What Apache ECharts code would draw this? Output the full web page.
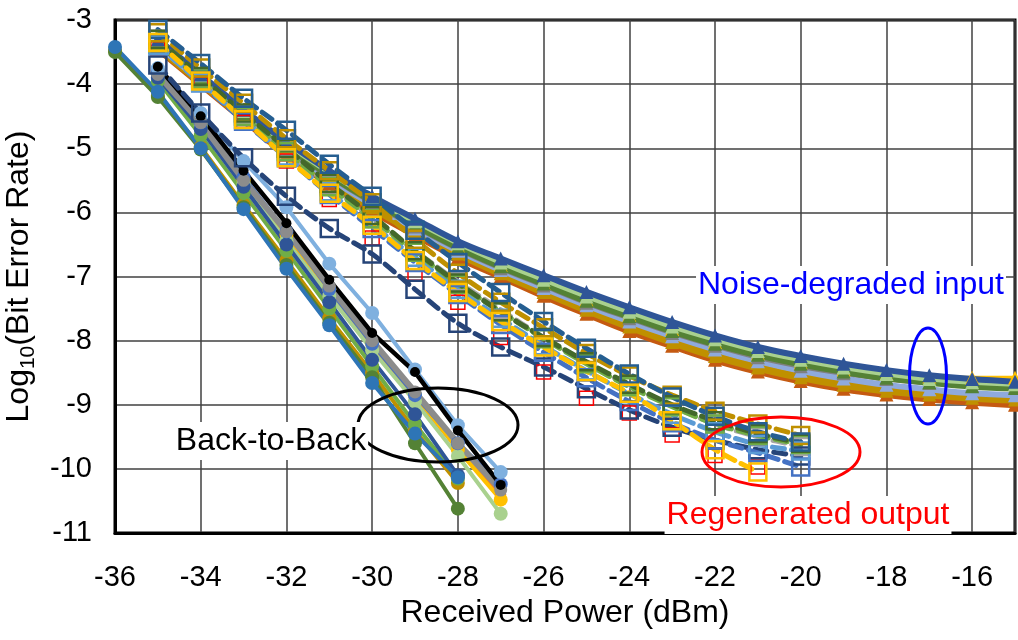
<!DOCTYPE html>
<html>
<head>
  <meta charset="utf-8">
  <script src="https://cdn.jsdelivr.net/npm/echarts@6.0.0/dist/echarts.min.js"></script>
  <style>
    html, body { margin: 0; padding: 0; background: #fff; }
    #chart { width: 1018px; height: 640px; }
  </style>
</head>
<body>
  <div id="chart"></div>
  <script>
    // x positions (dBm)
    var xFrom36To28 = [-36, -35, -34, -33, -32, -31, -30, -29, -28];
    var xFrom35To27 = [-35, -34, -33, -32, -31, -30, -29, -28, -27];
    var xFrom35To28 = [-35, -34, -33, -32, -31, -30, -29, -28];
    var xRegen = [-35, -34, -33, -32, -31, -30, -29, -28, -27, -26, -25, -24, -23, -22, -21, -20];
    var xRegenShort = [-35, -34, -33, -32, -31, -30, -29, -28, -27, -26, -25, -24, -23, -22, -21];
    var xNoise = [-35, -34, -33, -32, -31, -30, -29, -28, -27, -26, -25, -24, -23, -22, -21, -20, -19, -18, -17, -16, -15];

    // back-to-back (solid, circles)
    var b2bBlue = [-3.42, -4.12, -5.0, -5.95, -6.88, -7.76, -8.66, -9.45, -10.13];
    var b2bDarkGreen = [-3.5, -4.2, -5.02, -5.92, -6.82, -7.72, -8.57, -9.6, -10.62];
    var b2bGold = [-3.48, -4.18, -4.98, -5.88, -6.75, -7.65, -8.5, -9.4, -10.22];
    var b2bBlack = [-3.73, -4.5, -5.35, -6.17, -7.05, -7.88, -8.49, -9.4, -10.25];
    var b2bLightBlue = [-3.75, -4.45, -5.2, -5.92, -6.8, -7.57, -8.45, -9.32, -10.05];
    var b2bGray = [-3.85, -4.6, -5.5, -6.3, -7.15, -8.0, -8.8, -9.6, -10.33];
    var b2bOrange = [-3.9, -4.65, -5.55, -6.4, -7.25, -8.1, -8.9, -9.7, -10.4];
    var b2bYellow = [-3.8, -4.6, -5.5, -6.35, -7.2, -8.05, -8.85, -9.7, -10.48];
    var b2bLightGreen = [-3.85, -4.65, -5.55, -6.45, -7.3, -8.15, -8.95, -9.8, -10.7];
    var b2bMidBlue = [-3.8, -4.6, -5.45, -6.3, -7.2, -8.05, -8.85, -9.6, -10.24];
    var b2bNavy = [-3.9, -4.7, -5.6, -6.5, -7.4, -8.3, -9.15, -10.1];
    var b2bOlive = [-3.95, -4.8, -5.7, -6.6, -7.5, -8.4, -9.3, -10.15];

    // regenerated output (dashed, open squares)
    var regSteel = [-3.15, -3.68, -4.22, -4.72, -5.25, -5.75, -6.28, -6.78, -7.25, -7.7, -8.12, -8.52, -8.88, -9.18, -9.42, -9.58];
    var regGold = [-3.2, -3.75, -4.3, -4.85, -5.35, -5.85, -6.42, -6.95, -7.4, -7.8, -8.2, -8.55, -8.85, -9.1, -9.3, -9.48];
    var regDarkGreen = [-3.3, -3.88, -4.45, -5.0, -5.55, -6.05, -6.6, -7.1, -7.55, -7.95, -8.33, -8.68, -9.0, -9.25, -9.45, -9.6];
    var regGreen = [-3.35, -3.92, -4.5, -5.05, -5.6, -6.1, -6.62, -7.12, -7.55, -7.97, -8.36, -8.72, -9.03, -9.3, -9.48, -9.62];
    var regGray = [-3.3, -3.9, -4.48, -5.05, -5.58, -6.1, -6.6, -7.08, -7.52, -7.95, -8.35, -8.7, -9.02, -9.3, -9.5, -9.65];
    var regLightBlue = [-3.4, -3.98, -4.55, -5.12, -5.68, -6.2, -6.7, -7.2, -7.65, -8.08, -8.47, -8.83, -9.15, -9.42, -9.62, -9.72];
    var regBlue = [-3.38, -3.98, -4.58, -5.15, -5.72, -6.25, -6.78, -7.28, -7.75, -8.18, -8.58, -8.95, -9.28, -9.55, -9.75, -9.97];
    var regNavy = [-3.7, -4.45, -5.15, -5.75, -6.25, -6.65, -7.2, -7.73, -8.1, -8.41, -8.75, -9.08, -9.35, -9.55, -9.7, -9.8];
    var regYellow = [-3.35, -3.95, -4.55, -5.15, -5.7, -6.2, -6.75, -7.25, -7.7, -8.1, -8.48, -8.82, -9.25, -9.7, -10.05];
    var regRed = [-3.45, -4.0, -4.6, -5.2, -5.8, -6.4, -6.95, -7.4, -7.95, -8.49, -8.9, -9.13, -9.47, -9.79, -9.97];

    // noise-degraded input (solid, triangles)
    var noiseOrange = [-3.45, -4.0, -4.55, -5.1, -5.55, -5.98, -6.35, -6.7, -7.0, -7.3, -7.58, -7.85, -8.08, -8.3, -8.48, -8.63, -8.75, -8.84, -8.91, -8.96, -9.0];
    var noiseGold = [-3.42, -3.97, -4.52, -5.05, -5.5, -5.92, -6.3, -6.64, -6.95, -7.24, -7.52, -7.78, -8.02, -8.24, -8.42, -8.57, -8.69, -8.78, -8.84, -8.89, -8.92];
    var noiseLightBlue = [-3.4, -3.95, -4.5, -5.02, -5.47, -5.88, -6.25, -6.6, -6.9, -7.18, -7.45, -7.7, -7.93, -8.14, -8.32, -8.47, -8.59, -8.69, -8.76, -8.82, -8.85];
    var noiseGray = [-3.38, -3.93, -4.48, -4.99, -5.44, -5.85, -6.22, -6.57, -6.87, -7.14, -7.41, -7.65, -7.88, -8.08, -8.26, -8.4, -8.51, -8.6, -8.66, -8.7, -8.72];
    var noiseYellow = [-3.38, -3.93, -4.47, -4.98, -5.42, -5.82, -6.18, -6.52, -6.82, -7.1, -7.36, -7.6, -7.82, -8.02, -8.2, -8.34, -8.45, -8.52, -8.56, -8.58, -8.58];
    var noiseDarkGreen = [-3.35, -3.9, -4.45, -4.96, -5.41, -5.82, -6.19, -6.54, -6.84, -7.11, -7.38, -7.62, -7.85, -8.05, -8.22, -8.36, -8.48, -8.58, -8.65, -8.71, -8.74];
    var noiseLightGreen = [-3.3, -3.86, -4.42, -4.93, -5.38, -5.78, -6.14, -6.48, -6.78, -7.05, -7.31, -7.55, -7.78, -7.98, -8.16, -8.3, -8.42, -8.52, -8.6, -8.65, -8.68];
    var noiseBlue = [-3.3, -3.85, -4.4, -4.9, -5.35, -5.75, -6.1, -6.45, -6.72, -6.98, -7.24, -7.48, -7.71, -7.92, -8.1, -8.24, -8.36, -8.46, -8.54, -8.6, -8.64];

    var xTicks = [-36, -34, -32, -30, -28, -26, -24, -22, -20, -18, -16];
    var yTicks = [-11, -10, -9, -8, -7, -6, -5, -4, -3];

    var FONT = 'Liberation Sans, Arial, sans-serif';

    function pairs(xs, ys) {
      return ys.map(function (y, i) { return [xs[i], y]; });
    }

    var series = [];

    function b2b(xs, ys, color, size, width) {
      series.push({
        type: 'line', data: pairs(xs, ys), color: color,
        symbol: 'circle', symbolSize: size || 14,
        lineStyle: { color: color, width: width || 4 },
        itemStyle: { color: color }
      });
    }
    function regen(xs, ys, color, hideLine) {
      series.push({
        type: 'line', data: pairs(xs, ys), color: color, smooth: 0.3,
        symbol: 'rect', symbolSize: hideLine ? 14 : 17,
        lineStyle: { color: color, width: hideLine ? 0 : 5, type: [12, 7], cap: 'round', opacity: hideLine ? 0 : 1 },
        itemStyle: { color: 'rgba(255,255,255,0)', borderColor: color, borderWidth: hideLine ? 1.5 : 2.5 }
      });
    }
    function noise(xs, ys, color, width) {
      series.push({
        type: 'line', data: pairs(xs, ys), color: color, smooth: 0.4,
        symbol: 'triangle', symbolSize: 14,
        lineStyle: { color: color, width: width || 6 },
        itemStyle: { color: color }
      });
    }

    b2b(xFrom36To28, b2bGold, '#BF9000');
    b2b(xFrom35To27, b2bOrange, '#ED7D31', 11, 3);
    b2b(xFrom35To27, b2bYellow, '#FFC000');
    b2b(xFrom35To27, b2bLightGreen, '#A9D18E');
    b2b(xFrom35To28, b2bOlive, '#70AD47');
    b2b(xFrom35To28, b2bNavy, '#2F5597');
    b2b(xFrom35To27, b2bMidBlue, '#4472C4');
    b2b(xFrom35To27, b2bGray, '#8C8C8C', 13, 6);
    b2b(xFrom36To28, b2bDarkGreen, '#548235');
    b2b(xFrom36To28, b2bBlue, '#2E75B6');
    b2b(xFrom35To27, b2bLightBlue, '#7FB0DF');
    b2b(xFrom35To27, b2bBlack, '#000000', 10, 4.5);

    noise(xNoise, noiseOrange, '#C55A11', 7);
    noise(xNoise, noiseGold, '#BF9000', 8);
    noise(xNoise, noiseLightBlue, '#8FAADC', 6);
    noise(xNoise, noiseGray, '#7F7F7F', 5);
    noise(xNoise, noiseYellow, '#FFC000', 4);
    noise(xNoise, noiseDarkGreen, '#548235', 7);
    noise(xNoise, noiseLightGreen, '#A9D18E', 5);
    noise(xNoise, noiseBlue, '#2F5597', 6);

    regen(xRegenShort, regRed, '#FF0000', true);
    regen(xRegen, regGray, '#A5A5A5');
    regen(xRegen, regNavy, '#264478');
    regen(xRegen, regBlue, '#4472C4');
    regen(xRegen, regLightBlue, '#5B9BD5');
    regen(xRegen, regGreen, '#70AD47');
    regen(xRegen, regDarkGreen, '#43682B');
    regen(xRegen, regGold, '#BF9000');
    regen(xRegen, regSteel, '#255E91');
    regen(xRegenShort, regYellow, '#FFC000');

    var chart = echarts.init(document.getElementById('chart'));

    var option = {
      animation: false,
      textStyle: { fontFamily: FONT },
      grid: { left: 115, right: 3, top: 20, bottom: 107, show: true, borderColor: '#000', borderWidth: 3, outerBoundsMode: 'none' },
      xAxis: {
        type: 'value', min: xTicks[0], max: -15, interval: 2,
        name: 'Received Power (dBm)', nameLocation: 'middle', nameGap: 63,
        nameTextStyle: { fontSize: 32, color: '#000', fontFamily: FONT },
        axisLine: { lineStyle: { color: '#000', width: 3 } },
        axisTick: { show: false },
        axisLabel: { fontSize: 29, color: '#000', margin: 30, showMaxLabel: false, fontFamily: FONT },
        splitLine: { show: true, lineStyle: { color: '#404040', width: 1.5 } }
      },
      yAxis: {
        type: 'value', min: yTicks[0], max: yTicks[yTicks.length - 1], interval: 1,
        name: '{a|Log}{b|10}{a|(Bit Error Rate)}', nameLocation: 'middle', nameGap: 66, nameRotate: 90,
        nameTextStyle: {
          color: '#000',
          rich: {
            a: { fontSize: 32, color: '#000', fontFamily: FONT, lineHeight: 40, verticalAlign: 'middle' },
            b: { fontSize: 21, color: '#000', fontFamily: FONT, lineHeight: 22, verticalAlign: 'bottom' }
          }
        },
        axisLine: { show: true, lineStyle: { color: '#000', width: 3 } },
        axisTick: { show: false },
        axisLabel: { fontSize: 29, color: '#000', margin: 23, fontFamily: FONT },
        splitLine: { show: true, lineStyle: { color: '#404040', width: 1.5 } }
      },
      series: series,
      graphic: [
        { type: 'ellipse', shape: { cx: 438, cy: 425, rx: 80, ry: 37 }, style: { fill: 'none', stroke: '#000', lineWidth: 3 }, z: 100 },
        { type: 'ellipse', shape: { cx: 781, cy: 452, rx: 79, ry: 35 }, style: { fill: 'none', stroke: '#FF0000', lineWidth: 3 }, z: 100 },
        { type: 'ellipse', shape: { cx: 928, cy: 376, rx: 18.5, ry: 48 }, style: { fill: 'none', stroke: '#0000FF', lineWidth: 3 }, z: 100 },
        { type: 'text', x: 271, y: 441, z: 101,
          style: { text: 'Back-to-Back', font: '32px ' + FONT, fill: '#000', align: 'center', verticalAlign: 'middle', backgroundColor: '#fff', padding: [3, 2] } },
        { type: 'text', x: 808, y: 515, z: 101,
          style: { text: 'Regenerated output', font: '32px ' + FONT, fill: '#FF0000', align: 'center', verticalAlign: 'middle', backgroundColor: '#fff', padding: [3, 2] } },
        { type: 'text', x: 851, y: 285, z: 101,
          style: { text: 'Noise-degraded input', font: '32px ' + FONT, fill: '#0000FF', align: 'center', verticalAlign: 'middle', backgroundColor: '#fff', padding: [3, 2] } }
      ]
    };

    chart.setOption(option);
  </script>
</body>
</html>
